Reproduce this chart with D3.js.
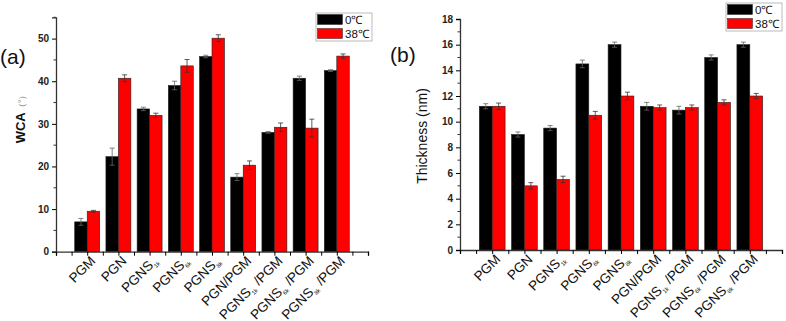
<!DOCTYPE html>
<html>
<head>
<meta charset="utf-8">
<script src="https://cdn.jsdelivr.net/npm/d3@7"></script>
<style>
  body { margin: 0; background: #fff; }
  svg { display: block; font-family: "Liberation Sans", Arial, sans-serif; }
</style>
</head>
<body>
<svg id="chart" width="786" height="321"></svg>
<script>
// category labels: [main, subscript, suffix]
const categories = [
  ['PGM', '', ''], ['PGN', '', ''], ['PGNS', '1k', ''], ['PGNS', '6k', ''], ['PGNS', '8k', ''],
  ['PGN/PGM', '', ''], ['PGNS', '1k', ' /PGM'], ['PGNS', '6k', ' /PGM'], ['PGNS', '8k', ' /PGM']
];
const seriesNames = ['0\u2103', '38\u2103'];

// (a) water contact angle
const wcaCold = [7, 22.3, 33.5, 39, 45.8, 17.5, 28, 40.7, 42.5];
const wcaWarm = [9.5, 40.7, 32, 43.6, 50.1, 20.3, 29.2, 29, 45.9];
const wcaColdErr = [0.8, 2, 0.4, 1, 0.3, 0.8, 0.2, 0.5, 0.2];
const wcaWarmErr = [0.2, 0.8, 0.5, 1.5, 0.8, 1, 1, 2.1, 0.5];

// (b) thickness
const thkCold = [11.2, 9, 9.5, 14.5, 16, 11.2, 10.9, 15, 16];
const thkWarm = [11.2, 5, 5.5, 10.5, 12, 11.1, 11.1, 11.5, 12];
const thkColdErr = [0.2, 0.2, 0.2, 0.3, 0.2, 0.3, 0.3, 0.2, 0.2];
const thkWarmErr = [0.25, 0.25, 0.25, 0.3, 0.3, 0.2, 0.2, 0.2, 0.2];

const wcaTicks = [0, 10, 20, 30, 40, 50];
const thkTicks = [0, 2, 4, 6, 8, 10, 12, 14, 16, 18];

const colors = ['#000000', '#ff0000'];
let svg = d3.select('#chart');

let drawPanel = (opt) => {
  let g = svg.append('g');
  let x = d3.scaleLinear().domain([0, 10]).range([opt.x0, opt.x1]);
  let y = d3.scaleLinear().domain([0, opt.ymax]).range([opt.y0, opt.y1]);
  let bw = (x(1) - x(0)) * 0.4;

  // bars
  [opt.cold, opt.warm].forEach((vals, s) => {
    let errs = s === 0 ? opt.coldErr : opt.warmErr;
    g.selectAll('.bar' + s)
      .data(vals)
      .enter()
      .append('rect')
      .attr('x', (d, i) => x(i + 1) - bw + s * bw)
      .attr('y', d => y(d))
      .attr('width', bw)
      .attr('height', d => y(0) - y(d))
      .attr('fill', colors[s])
      .attr('stroke', '#222')
      .attr('stroke-width', 0.6);
    // error bars
    vals.forEach((v, i) => {
      let cx = x(i + 1) - bw / 2 + s * bw;
      let e = errs[i];
      let col = s === 0 ? '#666' : '#333';
      g.append('line').attr('x1', cx).attr('x2', cx)
        .attr('y1', y(v - e)).attr('y2', y(v + e))
        .attr('stroke', col).attr('stroke-width', 0.8);
      [v - e, v + e].forEach(t => {
        g.append('line').attr('x1', cx - 2.5).attr('x2', cx + 2.5)
          .attr('y1', y(t)).attr('y2', y(t))
          .attr('stroke', col).attr('stroke-width', 0.8);
      });
    });
  });

  // y axis
  let yAxis = d3.axisLeft(y).tickValues(opt.yTicks).tickSize(4).tickPadding(3);
  let ya = g.append('g').attr('transform', `translate(${opt.x0},0)`).call(yAxis);
  ya.selectAll('text').attr('font-size', 10).attr('font-weight', 'bold').attr('fill', '#222');
  ya.select('.domain').attr('stroke', '#333').attr('stroke-width', 1.3);
  let minor = d3.range(0, opt.ymax + 0.001, opt.minorStep).filter(v => !opt.yTicks.includes(v));
  ya.selectAll('.minor').data(minor).enter().append('line')
    .attr('x1', -2.5).attr('x2', 0)
    .attr('y1', d => y(d)).attr('y2', d => y(d))
    .attr('stroke', '#333');

  // x axis
  let xAxis = d3.axisBottom(x).tickValues(d3.range(0, 10.01, 0.5)).tickSize(4).tickFormat('');
  let xa = g.append('g').attr('transform', `translate(0,${opt.y0})`).call(xAxis);
  xa.select('.domain').attr('stroke', '#333').attr('stroke-width', 1.3);

  // category labels
  categories.forEach((c, i) => {
    let t = g.append('text')
      .attr('transform', `translate(${x(i + 1) + 9},${opt.y0 + 10}) rotate(-45)`)
      .attr('text-anchor', 'end')
      .attr('font-size', 13.5)
      .attr('fill', '#111');
    t.append('tspan').text(c[0]);
    if (c[1]) t.append('tspan').attr('font-size', 6).attr('dy', 3).text(c[1]);
    if (c[2]) t.append('tspan').attr('dy', c[1] ? -3 : 0).text(c[2]);
  });

  // y label
  let yl = g.append('text')
    .attr('transform', `translate(${opt.ylabX},${opt.ylabY}) rotate(-90)`)
    .attr('text-anchor', 'middle')
    .attr('font-size', 12)
    .attr('fill', '#111');
  opt.ylabel.forEach(p => yl.append('tspan').attr('font-weight', p.w).attr('fill', p.c).attr('font-size', p.s).text(p.t));

  // panel letter
  g.append('text').attr('x', opt.letterX).attr('y', opt.letterY)
    .attr('font-size', 21).attr('fill', '#111').text(opt.letter);

  // legend
  let lg = g.append('g').attr('transform', `translate(${opt.legX},${opt.legY})`);
  lg.append('rect').attr('width', 56).attr('height', 28)
    .attr('fill', '#fff').attr('stroke', '#aaa').attr('stroke-width', 0.8);
  seriesNames.forEach((n, s) => {
    lg.append('rect').attr('x', 1.5).attr('y', 1.5 + s * 14).attr('width', 25).attr('height', 10)
      .attr('fill', colors[s]).attr('stroke', '#222').attr('stroke-width', 0.5);
    lg.append('text').attr('x', 29).attr('y', 11 + s * 14)
      .attr('font-size', 11.5).attr('fill', '#111').text(n);
  });
};

drawPanel({
  x0: 56, x1: 368, y0: 251.7, y1: 17.3, ymax: 55,
  cold: wcaCold, warm: wcaWarm, coldErr: wcaColdErr, warmErr: wcaWarmErr,
  yTicks: wcaTicks, minorStep: 5,
  ylabel: [{t: 'WCA', w: 'bold', c: '#111', s: 13}, {t: '\uff08\u00b0\uff09', w: 'normal', c: '#888', s: 9}],
  ylabX: 25, ylabY: 117,
  letter: '(a)', letterX: 0, letterY: 64,
  legX: 316, legY: 13
});

drawPanel({
  x0: 460, x1: 782, y0: 250, y1: 19, ymax: 18,
  cold: thkCold, warm: thkWarm, coldErr: thkColdErr, warmErr: thkWarmErr,
  yTicks: thkTicks, minorStep: 1,
  ylabel: [{t: 'Thickness (nm)', w: 'normal', c: '#111', s: 14}],
  ylabX: 427, ylabY: 136,
  letter: '(b)', letterX: 390, letterY: 62,
  legX: 726, legY: 3
});
</script>
</body>
</html>
